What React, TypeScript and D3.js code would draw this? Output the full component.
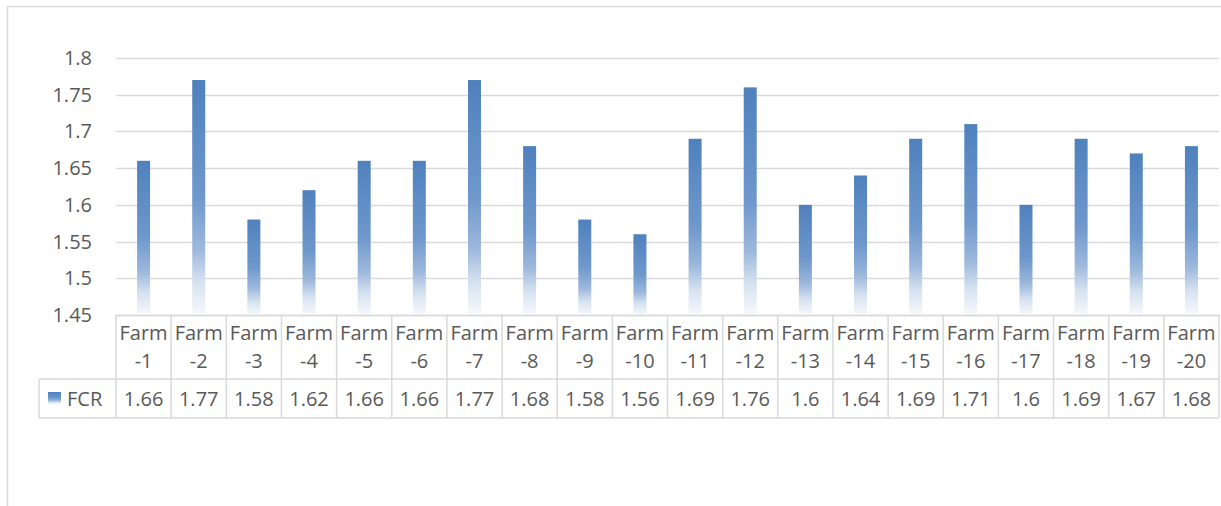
import React from "react";
import * as d3 from "d3";

const categories = ["Farm-1","Farm-2","Farm-3","Farm-4","Farm-5","Farm-6","Farm-7","Farm-8","Farm-9","Farm-10","Farm-11","Farm-12","Farm-13","Farm-14","Farm-15","Farm-16","Farm-17","Farm-18","Farm-19","Farm-20"];
const fcrValues = [1.66,1.77,1.58,1.62,1.66,1.66,1.77,1.68,1.58,1.56,1.69,1.76,1.6,1.64,1.69,1.71,1.6,1.69,1.67,1.68];
const yTicks = [1.45,1.5,1.55,1.6,1.65,1.7,1.75,1.8];
const seriesName = "FCR";

export default function App() {
  const W = 1221, H = 506;
  const left = 116, right = 1219;
  const top = 58, bottom = 315;
  const x = d3.scaleBand<string>().domain(categories).range([left, right]).paddingInner(0).paddingOuter(0);
  const y = d3.scaleLinear().domain([1.45, 1.8]).range([bottom, top]);
  const barW = 13;
  const font = "'Open Sans', 'Liberation Sans', sans-serif";
  const txt = "#595959";
  const grid = "#d9d9d9";
  const headerBottom = 379, rowBottom = 418, legendLeft = 39;

  return (
    <svg width={W} height={H} style={{ position: "absolute", left: 0, top: 0 }} fontFamily={font}>
      <defs>
        <linearGradient id="barGrad" x1="0" y1="0" x2="0" y2="1">
          <stop offset="0" stopColor="#4f81bd" />
          <stop offset="0.5" stopColor="#6f98cc" />
          <stop offset="0.72" stopColor="#9db8dc" />
          <stop offset="0.86" stopColor="#d6e2f0" />
          <stop offset="1" stopColor="#f7f9fc" />
        </linearGradient>
      </defs>
      <rect x={0} y={0} width={W} height={H} fill="#fff" />
      {/* outer frame */}
      <line x1={7.5} y1={6.5} x2={W + 5} y2={6.5} stroke={grid} strokeWidth={1.5} />
      <line x1={7.5} y1={6.5} x2={7.5} y2={H + 5} stroke={grid} strokeWidth={1.5} />
      {/* gridlines */}
      {yTicks.map((t) => (
        <line key={t} x1={left} x2={right} y1={Math.round(y(t)) + 0.5} y2={Math.round(y(t)) + 0.5} stroke={grid} strokeWidth={1.5} />
      ))}
      {/* y labels */}
      {yTicks.map((t) => (
        <text key={"l" + t} x={92} y={y(t)} dy="0.35em" textAnchor="end" fontSize={20} fill={txt}>{String(t)}</text>
      ))}
      {/* bars */}
      {categories.map((c, i) => {
        const cx = (x(c) as number) + x.bandwidth() / 2;
        return (
          <rect key={c} x={cx - barW / 2} y={y(fcrValues[i])} width={barW} height={bottom - y(fcrValues[i])} fill="url(#barGrad)" />
        );
      })}
      {/* data table */}
      <g stroke={grid} strokeWidth={1.5}>
        <line x1={left} x2={right} y1={bottom + 0.5} y2={bottom + 0.5} />
        <line x1={legendLeft} x2={right} y1={headerBottom} y2={headerBottom} />
        <line x1={legendLeft} x2={right} y1={rowBottom} y2={rowBottom} />
        <line x1={legendLeft} x2={legendLeft} y1={headerBottom} y2={rowBottom} />
        {categories.map((c) => (
          <line key={"v" + c} x1={x(c) as number} x2={x(c) as number} y1={bottom} y2={rowBottom} />
        ))}
        <line x1={right} x2={right} y1={bottom} y2={rowBottom} />
      </g>
      {categories.map((c, i) => {
        const cx = (x(c) as number) + x.bandwidth() / 2;
        const parts = c.split("-");
        return (
          <g key={"t" + c} fontSize={20} fill={txt} textAnchor="middle">
            <text x={cx} y={340}>{parts[0]}</text>
            <text x={cx} y={368}>{"-" + parts[1]}</text>
            <text x={cx} y={406}>{String(fcrValues[i])}</text>
          </g>
        );
      })}
      <rect x={48} y={392} width={13} height={12} fill="url(#barGrad)" />
      <text x={67} y={406} fontSize={20} fill={txt}>{seriesName}</text>
    </svg>
  );
}
